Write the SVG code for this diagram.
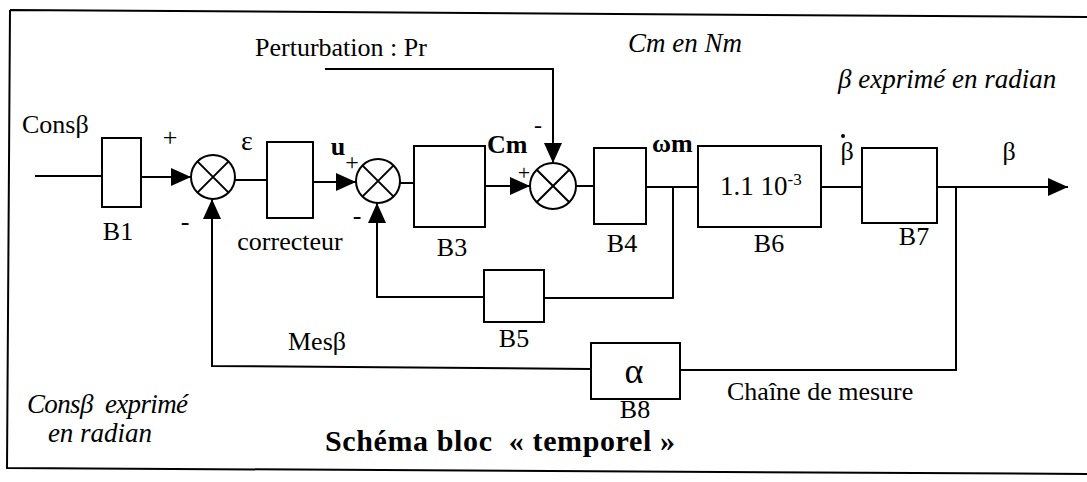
<svg xmlns="http://www.w3.org/2000/svg" width="1087" height="482" viewBox="0 0 1087 482">
<style>
text{font-family:"Liberation Serif","Times New Roman",serif;fill:#000;font-size:26px}
.it{font-style:italic;font-size:27px}
.b{font-weight:bold}
.m{text-anchor:middle}
.s24{font-size:24px}
.s22{font-size:22px}
.box{fill:#fff;stroke:#000;stroke-width:2}
.ln{fill:none;stroke:#000;stroke-width:2}
.sum{fill:#fff;stroke:#000;stroke-width:2}
</style>
<defs>
<marker id="ah" viewBox="0 0 20 18" refX="20" refY="9" markerWidth="20" markerHeight="18" markerUnits="userSpaceOnUse" orient="auto">
<path d="M0,0 L20,9 L0,18 z" fill="#000"/>
</marker>
</defs>
<rect x="0" y="0" width="1087" height="482" fill="#fff"/>
<path class="ln" d="M10,10 L1087,17 M10,10 L7,468 L1087,474"/>

<g id="connectors">
<path class="ln" d="M35,176 L102,176"/>
<path class="ln" d="M141,177 L191,177" marker-end="url(#ah)"/>
<path class="ln" d="M235,180 L267,180"/>
<path class="ln" d="M313,182 L356,182" marker-end="url(#ah)"/>
<path class="ln" d="M400,183 L414,183"/>
<path class="ln" d="M485,186 L530,186" marker-end="url(#ah)"/>
<path class="ln" d="M576,186 L594,186"/>
<path class="ln" d="M646,187 L698,187"/>
<path class="ln" d="M821,187 L862,187"/>
<path class="ln" d="M937,187 L1068,187" marker-end="url(#ah)"/>
<path class="ln" d="M325,69 L553,69 L553,163" marker-end="url(#ah)"/>
<path class="ln" d="M673,187 L673,298 L544,298"/>
<path class="ln" d="M484,297 L377,297 L377,203" marker-end="url(#ah)"/>
<path class="ln" d="M956,187 L956,370 L680,370"/>
<path class="ln" d="M591,369 L212,366 L212,199" marker-end="url(#ah)"/>
</g>

<g id="B1"><rect class="box" x="102" y="138" width="39" height="69"/><text x="118" y="240" class="m">B1</text></g>
<g id="sum1"><circle class="sum" cx="213" cy="177" r="22"/><path class="ln" d="M197.4,161.4 L228.6,192.6 M228.6,161.4 L197.4,192.6"/></g>
<g id="correcteur"><rect class="box" x="267" y="142" width="46" height="76"/><text x="290" y="250" class="m">correcteur</text></g>
<g id="sum2"><circle class="sum" cx="378" cy="181" r="22"/><path class="ln" d="M362.4,165.4 L393.6,196.6 M393.6,165.4 L362.4,196.6"/></g>
<g id="B3"><rect class="box" x="414" y="146" width="71" height="81"/><text x="452" y="256" class="m">B3</text></g>
<g id="sum3"><circle class="sum" cx="553" cy="186" r="23"/><path class="ln" d="M536.7,169.7 L569.3,202.3 M569.3,169.7 L536.7,202.3"/></g>
<g id="B4"><rect class="box" x="594" y="148" width="52" height="76"/><text x="622" y="252" class="m">B4</text></g>
<g id="B5"><rect class="box" x="484" y="270" width="60" height="52"/><text x="514" y="347" class="m">B5</text></g>
<g id="B6"><rect class="box" x="698" y="146" width="123" height="81"/><text x="720" y="195" style="font-size:27px">1.1 10<tspan dy="-10" style="font-size:17px">-3</tspan></text><text x="769" y="252" class="m">B6</text></g>
<g id="B7"><rect class="box" x="862" y="148" width="75" height="75"/><text x="914" y="245" class="m">B7</text></g>
<g id="B8"><rect class="box" x="591" y="343" width="89" height="56"/><text x="634" y="383" class="m" style="font-size:36px">α</text><text x="635" y="418" class="m">B8</text></g>

<g id="labels">
<text x="255" y="56">Perturbation : Pr</text>
<text x="628" y="52" class="it">Cm en Nm</text>
<text x="838" y="88" class="it">β exprimé en radian</text>
<text x="22" y="133">Consβ</text>
<text x="170" y="146" class="m">+</text>
<text x="247" y="150" class="m" style="font-size:28px">ε</text>
<text x="185" y="230" class="m">-</text>
<text x="338" y="155" class="m b">u</text>
<text x="352" y="170" class="m s24">+</text>
<text x="357" y="224" class="m">-</text>
<text x="487" y="153" class="b">Cm</text>
<text x="538" y="133" class="m s24">-</text>
<text x="524" y="180" class="m s22">+</text>
<text x="652" y="152" class="b">ωm</text>
<text x="847" y="160" class="m">β</text>
<circle cx="843" cy="136" r="2" fill="#000"/>
<text x="1009" y="160" class="m">β</text>
<text x="288" y="350">Mesβ</text>
<text x="727" y="400">Chaîne de mesure</text>
<text x="27" y="413" class="it" xml:space="preserve" textLength="161" lengthAdjust="spacing">Consβ  exprimé</text>
<text x="100" y="442" class="it m">en radian</text>
<text x="325" y="451" class="b" style="font-size:30px" xml:space="preserve" textLength="350" lengthAdjust="spacing">Schéma bloc  « temporel »</text>
</g>
</svg>
